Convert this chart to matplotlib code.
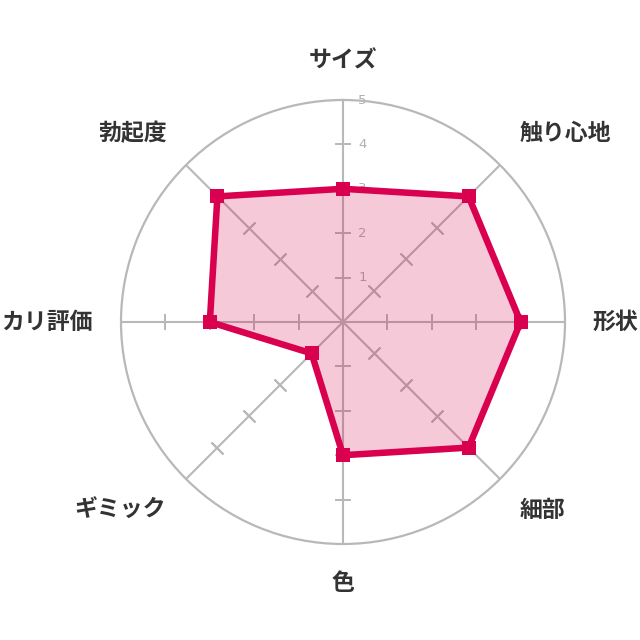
import numpy as np
import matplotlib
matplotlib.use("Agg")
import matplotlib.pyplot as plt

plt.rcParams['font.family'] = ['Noto Sans CJK JP', 'DejaVu Sans']

categories = ["サイズ", "触り心地", "形状", "細部", "色", "ギミック", "カリ評価", "勃起度"]
scores = [3, 4, 4, 4, 3, 1, 3, 4]
rings = [1, 2, 3, 4]
ring_labels = ["1", "2", "3", "4", "5"]
max_score = 5

line_color = "#d8004f"
grid_color = "#b8b8b8"
text_color = "#333333"

n = len(categories)
angles = np.arange(n) * 2 * np.pi / n

fig = plt.figure(figsize=(6.4, 6.4), dpi=100)
ax = fig.add_axes([121 / 640, 96 / 640, 444 / 640, 444 / 640], projection="polar")
ax.set_theta_zero_location("N")
ax.set_theta_direction(-1)
ax.set_ylim(0, max_score)
ax.set_xticks([])
ax.set_yticks([])
ax.grid(False)
ax.spines["polar"].set_color(grid_color)
ax.spines["polar"].set_linewidth(1.6)

# spokes and ticks
for a in angles:
    ax.plot([a, a], [0, max_score], color=grid_color, lw=1.5, zorder=1)
    rot = 90 - np.degrees(a)
    ax.plot([a] * len(rings), rings, ls="none", marker=(2, 2, rot),
            markersize=12, markeredgewidth=1.4, color=grid_color, zorder=1)

# scale labels on the top axis (drawn under the filled area)
for i, lab in enumerate(ring_labels):
    ax.annotate(lab, xy=(0, i + 1), xytext=(14, 0), textcoords="offset points",
                fontsize=9.5, color="#b0b0b0", ha="center", va="center",
                family="DejaVu Sans", zorder=1)

# data polygon
th = np.append(angles, angles[0])
vals = np.append(scores, scores[0])
ax.fill(th, vals, color=line_color, alpha=0.21, lw=0, zorder=2)
ax.plot(th, vals, color=line_color, lw=4.7, zorder=3, solid_joinstyle="miter")
ax.plot(angles, scores, ls="none", marker="s", markersize=10.5,
        markeredgewidth=0, color=line_color, zorder=4)

# category labels
label_r = 5.63
for a, name in zip(angles, categories):
    s, c = np.sin(a), np.cos(a)
    ha = "center" if abs(s) < 0.1 else ("left" if s > 0 else "right")
    va = "center" if abs(c) < 0.1 else ("bottom" if c > 0 else "top")
    ax.text(a, label_r, name, ha=ha, va=va, fontsize=16.5, fontweight="bold",
            color=text_color, clip_on=False)

fig.savefig("out.png", dpi=100)
